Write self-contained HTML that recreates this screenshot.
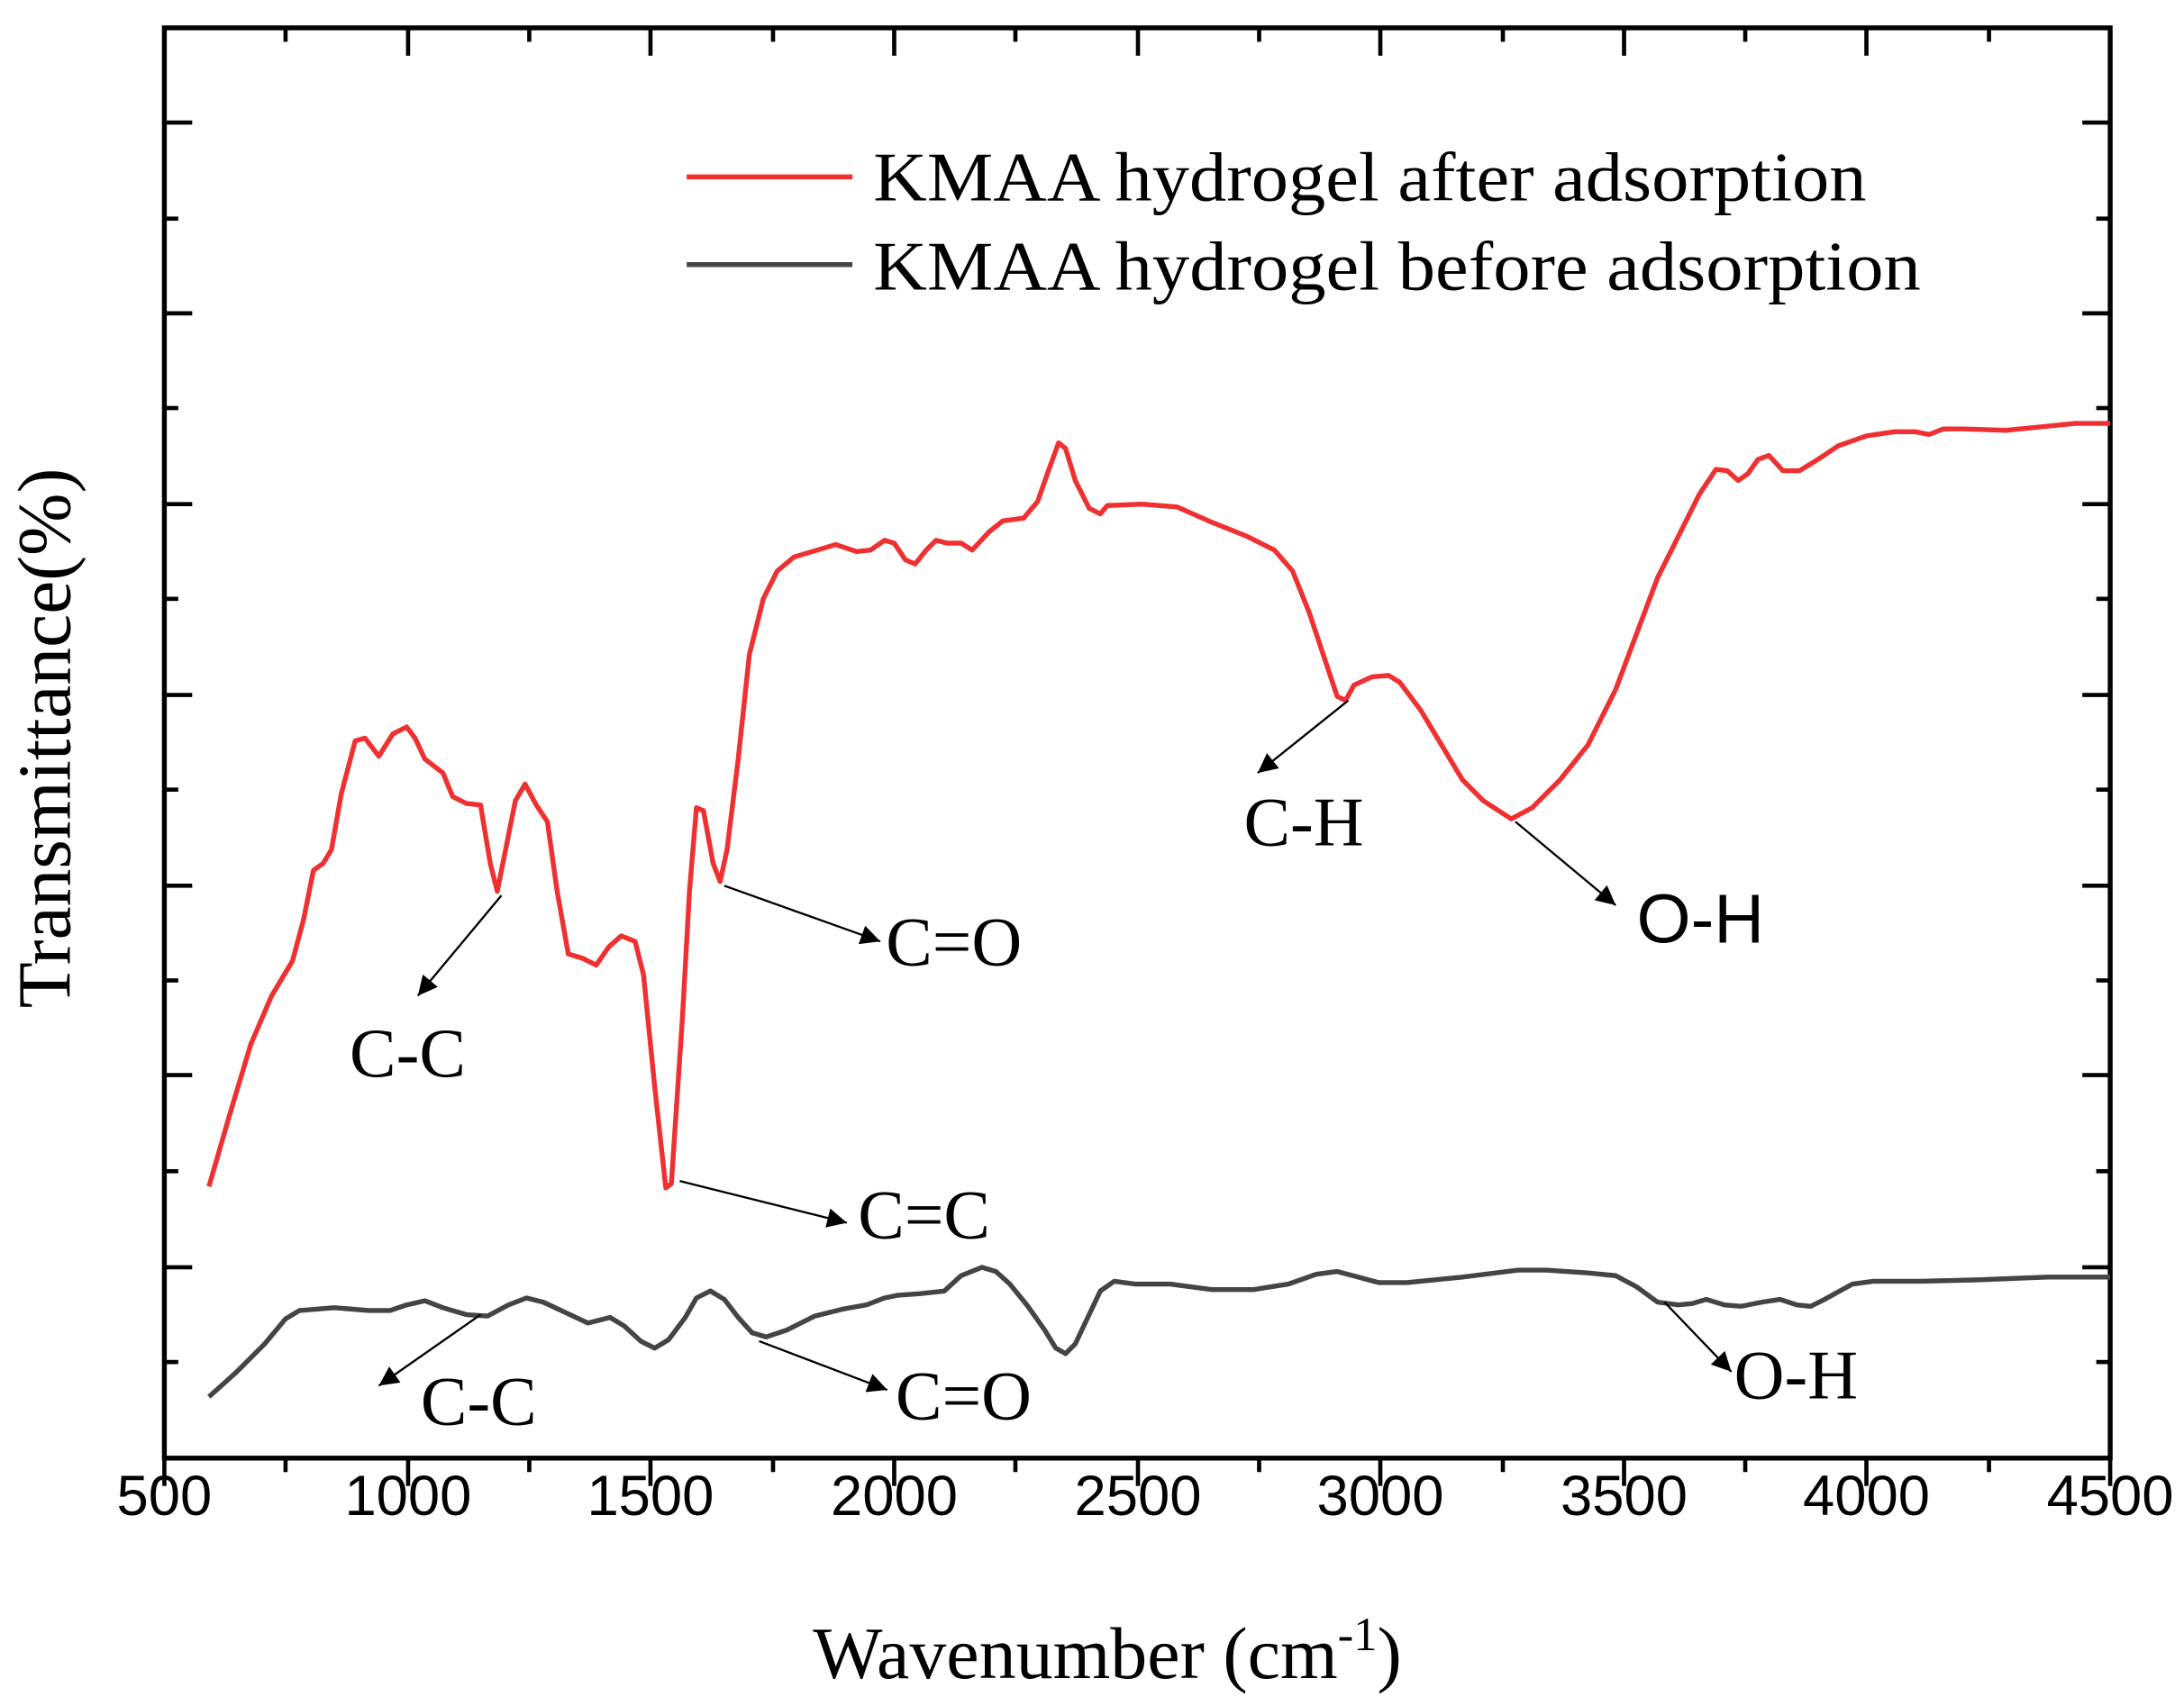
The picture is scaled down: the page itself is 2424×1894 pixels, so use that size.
<!DOCTYPE html>
<html><head><meta charset="utf-8"><style>html,body{margin:0;padding:0;background:#fff}svg{display:block}</style></head>
<body>
<svg width="2424" height="1894" viewBox="0 0 1568 1225" preserveAspectRatio="none" xmlns="http://www.w3.org/2000/svg">
<defs>
<marker id="ah" viewBox="0 0 10 10" refX="10" refY="5" markerWidth="22" markerHeight="14" markerUnits="userSpaceOnUse" orient="auto"><path d="M0,0 L10,5 L0,10 z" fill="#000"/></marker>
</defs>
<rect width="1568" height="1225" fill="#fff"/>
<g stroke="#000" stroke-width="3.5" fill="none">
<rect x="118" y="20" width="1397" height="1027"/>
</g>
<g stroke="#000" stroke-width="3">
<line x1="118" y1="1047" x2="118" y2="1067"/><line x1="205" y1="1047" x2="205" y2="1057"/>
<line x1="293" y1="1047" x2="293" y2="1067"/><line x1="380" y1="1047" x2="380" y2="1057"/>
<line x1="467" y1="1047" x2="467" y2="1067"/><line x1="555" y1="1047" x2="555" y2="1057"/>
<line x1="642" y1="1047" x2="642" y2="1067"/><line x1="729" y1="1047" x2="729" y2="1057"/>
<line x1="817" y1="1047" x2="817" y2="1067"/><line x1="904" y1="1047" x2="904" y2="1057"/>
<line x1="991" y1="1047" x2="991" y2="1067"/><line x1="1079" y1="1047" x2="1079" y2="1057"/>
<line x1="1166" y1="1047" x2="1166" y2="1067"/><line x1="1253" y1="1047" x2="1253" y2="1057"/>
<line x1="1340" y1="1047" x2="1340" y2="1067"/><line x1="1428" y1="1047" x2="1428" y2="1057"/>
<line x1="1515" y1="1047" x2="1515" y2="1067"/>
<line x1="205" y1="20" x2="205" y2="30"/><line x1="293" y1="20" x2="293" y2="40"/>
<line x1="380" y1="20" x2="380" y2="30"/><line x1="467" y1="20" x2="467" y2="40"/>
<line x1="555" y1="20" x2="555" y2="30"/><line x1="642" y1="20" x2="642" y2="40"/>
<line x1="729" y1="20" x2="729" y2="30"/><line x1="817" y1="20" x2="817" y2="40"/>
<line x1="904" y1="20" x2="904" y2="30"/><line x1="991" y1="20" x2="991" y2="40"/>
<line x1="1079" y1="20" x2="1079" y2="30"/><line x1="1166" y1="20" x2="1166" y2="40"/>
<line x1="1253" y1="20" x2="1253" y2="30"/><line x1="1340" y1="20" x2="1340" y2="40"/>
<line x1="1428" y1="20" x2="1428" y2="30"/>
<g>
<line x1="118" y1="88" x2="138" y2="88"/><line x1="118" y1="157" x2="128" y2="157"/>
<line x1="118" y1="225" x2="138" y2="225"/><line x1="118" y1="293" x2="128" y2="293"/>
<line x1="118" y1="362" x2="138" y2="362"/><line x1="118" y1="430" x2="128" y2="430"/>
<line x1="118" y1="499" x2="138" y2="499"/><line x1="118" y1="567" x2="128" y2="567"/>
<line x1="118" y1="636" x2="138" y2="636"/><line x1="118" y1="704" x2="128" y2="704"/>
<line x1="118" y1="772" x2="138" y2="772"/><line x1="118" y1="841" x2="128" y2="841"/>
<line x1="118" y1="910" x2="138" y2="910"/><line x1="118" y1="978" x2="128" y2="978"/>
</g>
<g transform="translate(1633,0) scale(-1,1)">
<line x1="118" y1="88" x2="138" y2="88"/><line x1="118" y1="157" x2="128" y2="157"/>
<line x1="118" y1="225" x2="138" y2="225"/><line x1="118" y1="293" x2="128" y2="293"/>
<line x1="118" y1="362" x2="138" y2="362"/><line x1="118" y1="430" x2="128" y2="430"/>
<line x1="118" y1="499" x2="138" y2="499"/><line x1="118" y1="567" x2="128" y2="567"/>
<line x1="118" y1="636" x2="138" y2="636"/><line x1="118" y1="704" x2="128" y2="704"/>
<line x1="118" y1="772" x2="138" y2="772"/><line x1="118" y1="841" x2="128" y2="841"/>
<line x1="118" y1="910" x2="138" y2="910"/><line x1="118" y1="978" x2="128" y2="978"/>
</g>
</g>
<g font-family="Liberation Sans, sans-serif" font-size="41" text-anchor="middle" fill="#000">
<text x="118" y="1088">500</text><text x="293" y="1088">1000</text><text x="467" y="1088">1500</text>
<text x="642" y="1088">2000</text><text x="817" y="1088">2500</text><text x="991" y="1088">3000</text>
<text x="1166" y="1088">3500</text><text x="1340" y="1088">4000</text><text x="1515" y="1088">4500</text>
</g>
<text x="795" y="1205" font-family="Liberation Serif, serif" font-size="53" text-anchor="middle">Wavenumber (cm<tspan dy="-20" font-size="34">-1</tspan><tspan dy="20">)</tspan></text>
<text transform="translate(50,530) rotate(-90)" font-family="Liberation Serif, serif" font-size="54" text-anchor="middle">Transmittance(%)</text>

<polyline fill="none" stroke="#f03030" stroke-width="3.5" stroke-linejoin="round" points="150,852 165,800 180,750 195,715 210,690 218,660 225,625 232,620 238,610 245,570 255,532 262,530 272,543 282,527 292,522 298,530 305,545 318,555 325,572 335,577 345,578 352,620 357,640 362,615 370,575 377,563 385,578 393,590 400,640 408,685 418,688 428,693 437,680 446,672 456,676 462,700 470,780 478,853 482,850 490,730 495,640 500,580 505,582 512,620 517,633 522,610 530,545 538,470 548,430 558,410 570,400 590,394 600,391 615,396 625,395 635,388 642,390 650,402 657,405 665,395 672,388 680,390 690,390 698,395 710,382 720,374 735,372 745,360 752,340 760,318 765,322 772,345 782,365 790,369 795,363 820,362 845,364 870,375 895,385 915,395 928,410 940,440 950,470 960,500 966,503 972,492 985,486 997,485 1005,490 1020,510 1035,535 1050,560 1065,575 1085,588 1100,580 1120,560 1140,535 1160,495 1175,455 1190,415 1205,385 1220,355 1232,337 1240,338 1248,345 1255,340 1262,330 1270,327 1280,338 1292,338 1305,330 1320,320 1340,313 1360,310 1375,310 1385,312 1395,308 1410,308 1440,309 1460,307 1490,304 1515,304"/>
<polyline fill="none" stroke="#444" stroke-width="3.5" stroke-linejoin="round" points="150,1003 170,985 190,965 205,947 215,941 240,939 265,941 280,941 292,937 305,934 318,939 335,944 350,945 365,937 378,932 390,935 405,942 422,950 438,946 448,952 460,963 470,968 480,962 492,946 500,932 510,927 520,933 530,946 540,957 550,960 565,955 585,945 605,940 622,937 635,932 645,930 660,929 678,927 690,916 705,910 715,913 725,922 738,938 750,955 758,968 765,972 772,965 780,948 790,927 800,920 815,922 840,922 870,926 900,926 925,922 945,915 960,913 975,917 990,921 1010,921 1050,917 1090,912 1110,912 1140,914 1160,916 1175,924 1190,935 1205,937 1215,936 1225,933 1238,937 1250,938 1265,935 1278,933 1290,937 1300,938 1310,933 1330,922 1345,920 1380,920 1420,919 1470,917 1515,917"/>

<line x1="493" y1="127" x2="612" y2="127" stroke="#f03030" stroke-width="3.5"/>
<line x1="493" y1="190" x2="612" y2="190" stroke="#444" stroke-width="3.5"/>
<g font-family="Liberation Serif, serif" font-size="50" fill="#000">
<text x="627" y="144" textLength="713" lengthAdjust="spacingAndGlyphs">KMAA hydrogel after adsorption</text>
<text x="627" y="208" textLength="752" lengthAdjust="spacingAndGlyphs">KMAA hydrogel before adsorption</text>
</g>

<g stroke="#000" stroke-width="1.5" marker-end="url(#ah)">
<line x1="360" y1="643" x2="300" y2="715"/>
<line x1="520" y1="636" x2="632" y2="676"/>
<line x1="488" y1="848" x2="608" y2="878"/>
<line x1="968" y1="503" x2="903" y2="555"/>
<line x1="1088" y1="590" x2="1160" y2="650"/>
<line x1="345" y1="944" x2="272" y2="995"/>
<line x1="545" y1="963" x2="637" y2="998"/>
<line x1="1195" y1="935" x2="1243" y2="985"/>
</g>
<g font-family="Liberation Serif, serif" font-size="50" fill="#000">
<text x="251" y="773">C-C</text>
<text x="636" y="693">C=O</text>
<text x="616" y="889">C=C</text>
<text x="893" y="607">C-H</text>
<text x="302" y="1023">C-C</text>
<text x="643" y="1019">C=O</text>
<text x="1245" y="1004">O-H</text>
</g>
<text x="1175" y="677" font-family="Liberation Sans, sans-serif" font-size="50" fill="#000">O-H</text>
</svg>
</body></html>
